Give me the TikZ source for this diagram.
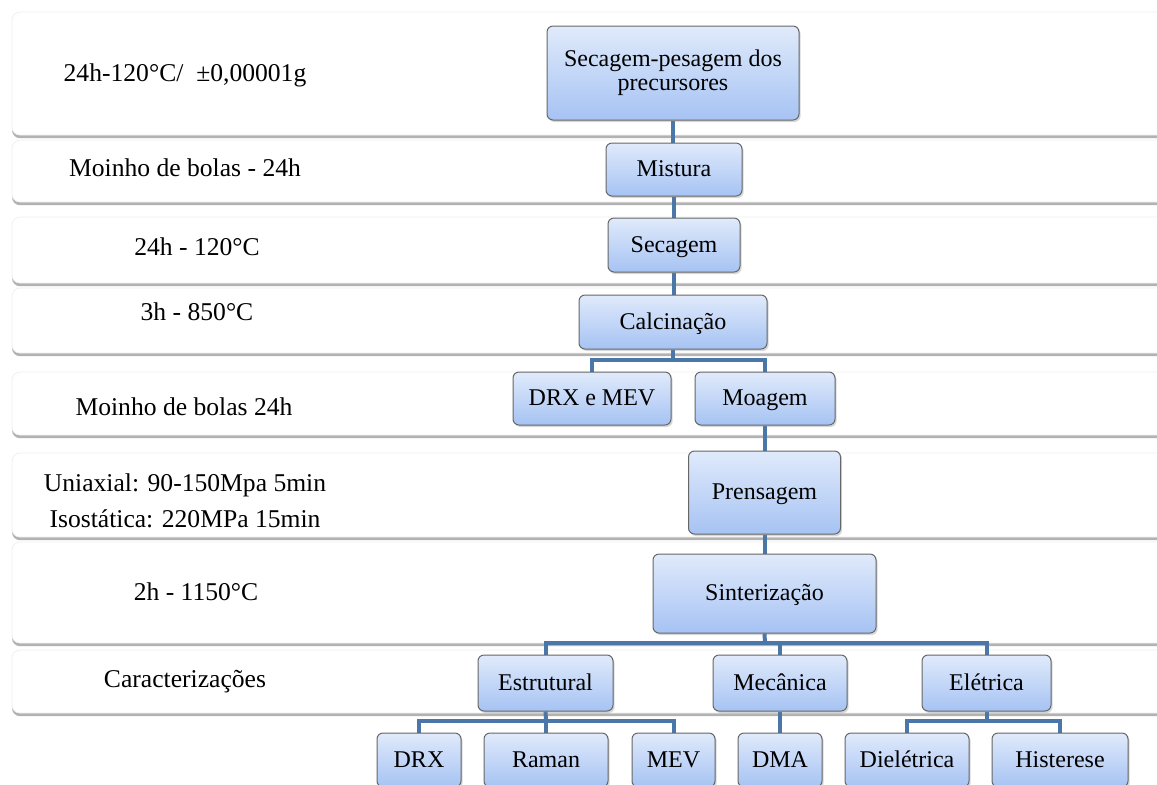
\documentclass[tikz,border=0pt]{standalone}
\usepackage{fontspec}
\setmainfont{Liberation Serif}
\usetikzlibrary{shadows}
\definecolor{boxtop}{HTML}{E0EAFB}
\definecolor{boxbot}{HTML}{A6C3F3}
\definecolor{boxline}{HTML}{666666}
\definecolor{conn}{HTML}{4A76A8}
\pgfdeclarelayer{bands}
\pgfdeclarelayer{links}
\pgfsetlayers{bands,links,main}
\tikzset{
  band/.style={fill=white, draw=black!6, rounded corners=4pt,
    drop shadow={shadow xshift=0pt, shadow yshift=-1.6pt, opacity=0.55, fill=black!55}},
  stepbox/.style={draw=boxline, line width=0.5pt, rounded corners=3pt,
    top color=boxtop, bottom color=boxbot, inner sep=0pt,
    font=\fontsize{12}{12}\selectfont, align=center,
    drop shadow={shadow xshift=0.8pt, shadow yshift=-1pt, opacity=0.3}},
  oneline/.style={text height=9.2pt, text depth=2pt},
  bandlabel/.style={font=\fontsize{12.8}{18}\selectfont, align=center, inner sep=0pt},
  link/.style={draw=conn, line width=2pt}
}
\begin{document}
\begin{tikzpicture}[x=0.5pt,y=-0.5pt]
\useasboundingbox (0,0) rectangle (1157,784);
% bands
\begin{pgfonlayer}{bands}
\fill[white] (-10,-10) rectangle (1170,800);
\path[band] (12,12) rectangle (1175,135);
\path[band] (12,140) rectangle (1175,202);
\path[band] (12,217) rectangle (1175,283);
\path[band] (12,288) rectangle (1175,353);
\path[band] (12,372) rectangle (1175,435);
\path[band] (12,453) rectangle (1175,537);
\path[band] (12,542) rectangle (1175,643);
\path[band] (12,650) rectangle (1175,713);
\end{pgfonlayer}
% band labels
\node[bandlabel, oneline] (l1) at (185,74) {24h-120°C/\ \ ±0,00001g};
\node[bandlabel, oneline] (l2) at (185,169) {Moinho de bolas - 24h};
\node[bandlabel, oneline] (l3) at (197,248) {24h - 120°C};
\node[bandlabel, oneline] (l4) at (197,313) {3h - 850°C};
\node[bandlabel, oneline] (l5) at (184,408) {Moinho de bolas 24h};
\node[bandlabel] (l6) at (185,501) {Uniaxial: 90-150Mpa 5min\\Isostática: 220MPa 15min};
\node[bandlabel, oneline] (l7) at (196,593) {2h - 1150°C};
\node[bandlabel, oneline] (l8) at (185,680) {Caracterizações};
% process boxes
\node[stepbox, minimum width=126pt, minimum height=47pt] (sp) at (673,73) {Secagem-pesagem dos\\precursores};
\node[stepbox, oneline, minimum width=68pt, minimum height=26.5pt] (mist) at (674,169.5) {Mistura};
\node[stepbox, oneline, minimum width=66pt, minimum height=27pt] (sec) at (674,245) {Secagem};
\node[stepbox, oneline, minimum width=94pt, minimum height=27pt] (calc) at (673,322) {Calcinação};
\node[stepbox, oneline, minimum width=79pt, minimum height=26.5pt] (drxmev) at (592,398.5) {DRX e MEV};
\node[stepbox, oneline, minimum width=70pt, minimum height=26.5pt] (moag) at (765,398.5) {Moagem};
\node[stepbox, oneline, minimum width=76pt, minimum height=41.5pt] (prens) at (764.5,492.5) {Prensagem};
\node[stepbox, oneline, minimum width=111.5pt, minimum height=39.5pt] (sint) at (764.5,593.5) {Sinterização};
\node[stepbox, oneline, minimum width=67.5pt, minimum height=28pt] (estr) at (545.5,683) {Estrutural};
\node[stepbox, oneline, minimum width=67pt, minimum height=28pt] (mec) at (780,683) {Mecânica};
\node[stepbox, oneline, minimum width=64.5pt, minimum height=28pt] (elet) at (986.5,683) {Elétrica};
\node[stepbox, oneline, minimum width=42pt, minimum height=27pt] (drx) at (419,760) {DRX};
\node[stepbox, oneline, minimum width=62pt, minimum height=27pt] (raman) at (546,760) {Raman};
\node[stepbox, oneline, minimum width=41.5pt, minimum height=27pt] (mev) at (673.5,760) {MEV};
\node[stepbox, oneline, minimum width=42pt, minimum height=27pt] (dma) at (780,760) {DMA};
\node[stepbox, oneline, minimum width=62pt, minimum height=27pt] (diel) at (907,760) {Dielétrica};
\node[stepbox, oneline, minimum width=68pt, minimum height=27pt] (hist) at (1060,760) {Histerese};
% connectors
\coordinate (b1) at (673,360);
\coordinate (b2) at (765,643);
\coordinate (b3) at (546,721);
\coordinate (b4) at (986.5,721);
\begin{pgfonlayer}{links}
\draw[link] (sp.south) -- (sp.south |- mist.north);
\draw[link] (mist.south) -- (mist.south |- sec.north);
\draw[link] (sec.south) -- (sec.south |- calc.north);
\draw[link] (calc.south) -- (b1);
\draw[link] (drxmev.north) |- (b1) -| (moag.north);
\draw[link] (moag.south) -- (moag.south |- prens.north);
\draw[link] (prens.south) -- (prens.south |- sint.north);
\draw[link] (sint.south) -- (b2);
\draw[link] (estr.north) |- (b2) -| (elet.north);
\draw[link] (mec.north) -- (mec.north |- b2);
\draw[link] (estr.south) -- (b3);
\draw[link] (raman.north) -- (b3);
\draw[link] (drx.north) |- (b3) -| (mev.north);
\draw[link] (mec.south) -- (dma.north);
\draw[link] (elet.south) -- (b4);
\draw[link] (diel.north) |- (b4) -| (hist.north);
\end{pgfonlayer}
\end{tikzpicture}
\end{document}
